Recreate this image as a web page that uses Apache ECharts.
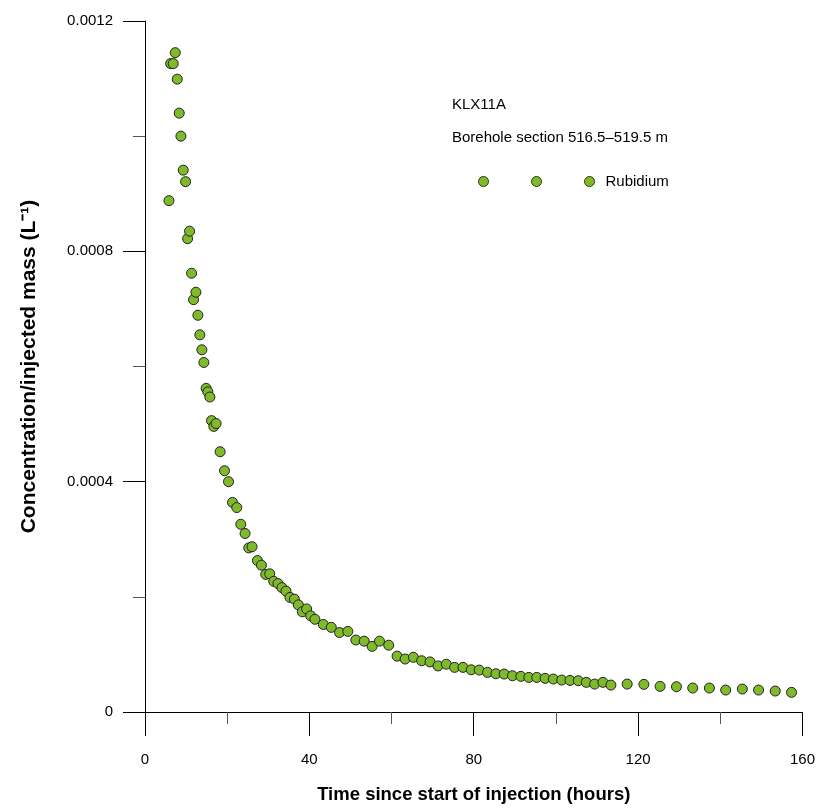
<!DOCTYPE html>
<html>
<head>
<meta charset="utf-8">
<script src="https://cdn.jsdelivr.net/npm/echarts@6/dist/echarts.min.js"></script>
<style>
  html, body { margin: 0; padding: 0; background: #fff; }
  #chart { width: 818px; height: 809px; }
</style>
</head>
<body>
<div id="chart"></div>
<script>
// time since start of injection (hours)
var hours = [
  5.83, 6.24, 6.87, 7.36, 7.84, 8.33, 8.74, 9.30, 9.88, 10.37, 10.85,
  11.34, 11.82, 12.38, 12.87, 13.35, 13.84, 14.32, 14.88, 15.30, 15.78,
  16.19, 16.75, 17.31, 18.28, 19.35, 20.32, 21.29, 22.34, 23.31, 24.35,
  25.25, 26.05, 27.36, 28.33, 29.38, 30.35, 31.32, 32.36, 33.34, 34.31,
  35.28, 36.35, 37.32, 38.29, 39.33, 40.31, 41.35, 43.39, 45.33, 47.34,
  49.36, 51.30, 53.34, 55.28, 57.06, 59.31, 61.35, 63.30, 65.31, 67.32,
  69.36, 71.31, 73.32, 75.34, 77.38, 79.39, 81.33, 83.35, 85.39, 87.40,
  89.42, 91.46, 93.40, 95.34, 97.36, 99.37, 101.41, 103.43, 105.44, 107.39,
  109.42, 111.44, 113.38, 117.34, 121.40, 125.35, 129.33, 133.29, 137.35,
  141.31, 145.36, 149.31, 153.37, 157.33
];
// concentration / injected mass, in units of 1e-4 L^-1
var rubidiumE4 = [
  8.88, 11.26, 11.26, 11.45, 10.99, 10.40, 10.00, 9.41, 9.21, 8.22, 8.35,
  7.62, 7.16, 7.29, 6.89, 6.55, 6.29, 6.07, 5.62, 5.56, 5.47,
  5.06, 4.96, 5.01, 4.52, 4.19, 4.00, 3.64, 3.55, 3.26, 3.10,
  2.85, 2.87, 2.63, 2.55, 2.39, 2.40, 2.27, 2.23, 2.16, 2.10,
  1.99, 1.96, 1.86, 1.74, 1.79, 1.67, 1.61, 1.52, 1.47, 1.38,
  1.40, 1.25, 1.23, 1.14, 1.23, 1.16, 0.97, 0.92, 0.95, 0.89,
  0.87, 0.80, 0.83, 0.775, 0.775, 0.733, 0.728, 0.688, 0.664, 0.659,
  0.629, 0.619, 0.601, 0.601, 0.584, 0.572, 0.555, 0.549, 0.543, 0.515,
  0.485, 0.515, 0.468, 0.485, 0.480, 0.445, 0.439, 0.416, 0.416,
  0.381, 0.399, 0.381, 0.364, 0.341
];
var xTicks = [0, 40, 80, 120, 160];
var yTicks = [0, 0.0004, 0.0008, 0.0012];

var points = hours.map(function (t, i) { return [t, rubidiumE4[i] * 1e-4]; });

var font = '"Liberation Sans", Arial, sans-serif';
var green = '#7fba2a';

var chart = echarts.init(document.getElementById('chart'), null, { renderer: 'canvas' });
chart.setOption({
  animation: false,
  backgroundColor: '#fff',
  textStyle: { fontFamily: font, color: '#000' },
  grid: { left: 145, right: 13, top: 21, bottom: 96, containLabel: false },
  title: [
    { text: 'KLX11A', left: 447, top: 92, textStyle: { fontFamily: font, fontSize: 15, fontWeight: 'normal', color: '#000' } },
    { text: 'Borehole section 516.5\u2013519.5 m', left: 447, top: 125, textStyle: { fontFamily: font, fontSize: 15, fontWeight: 'normal', color: '#000' } }
  ],
  legend: {
    left: 473, top: 169,
    itemWidth: 116, itemHeight: 10, itemGap: 10,
    icon: 'path://M0,5a5,5 0 1,0 10,0a5,5 0 1,0 -10,0Z M53,5a5,5 0 1,0 10,0a5,5 0 1,0 -10,0Z M106,5a5,5 0 1,0 10,0a5,5 0 1,0 -10,0Z',
    itemStyle: { color: green, borderColor: '#2e3a14', borderWidth: 1 },
    textStyle: { fontFamily: font, fontSize: 15, color: '#000', padding: [0, 0, 0, 6] },
    data: ['Rubidium']
  },
  xAxis: {
    type: 'value', min: 0, max: 160, interval: 40,
    name: 'Time since start of injection (hours)',
    nameLocation: 'middle', nameGap: 73,
    nameTextStyle: { fontFamily: font, fontSize: 18.5, fontWeight: 'bold', color: '#000' },
    axisLine: { show: true, onZero: false, lineStyle: { color: '#000', width: 1 } },
    axisTick: { show: true, length: 24, lineStyle: { color: '#000' } },
    minorTick: { show: true, splitNumber: 2, length: 12, lineStyle: { color: '#555' } },
    splitLine: { show: false },
    axisLabel: {
      margin: 40, fontFamily: font, fontSize: 15, color: '#000',
      formatter: function (v) { return xTicks.indexOf(v) >= 0 ? String(v) : ''; }
    }
  },
  yAxis: {
    type: 'value', min: 0, max: 0.0012, interval: 0.0004,
    name: 'Concentration/injected mass (L\u207B\u00B9)',
    nameLocation: 'middle', nameGap: 105,
    nameTextStyle: { fontFamily: font, fontSize: 21, fontWeight: 'bold', color: '#000' },
    axisLine: { show: true, onZero: false, lineStyle: { color: '#000', width: 1 } },
    axisTick: { show: true, length: 22, lineStyle: { color: '#000' } },
    minorTick: { show: true, splitNumber: 2, length: 12, lineStyle: { color: '#555' } },
    splitLine: { show: false },
    axisLabel: {
      margin: 32, fontFamily: font, fontSize: 15, color: '#000',
      formatter: function (v) {
        var k = yTicks.findIndex(function (t) { return Math.abs(t - v) < 1e-9; });
        if (k < 0) return '';
        return k === 0 ? '0' : yTicks[k].toFixed(4);
      }
    }
  },
  series: [{
    name: 'Rubidium',
    type: 'scatter',
    data: points,
    symbol: 'circle',
    symbolSize: 10,
    itemStyle: { color: green, borderColor: '#222', borderWidth: 1, opacity: 1 }
  }]
});
</script>
</body>
</html>
